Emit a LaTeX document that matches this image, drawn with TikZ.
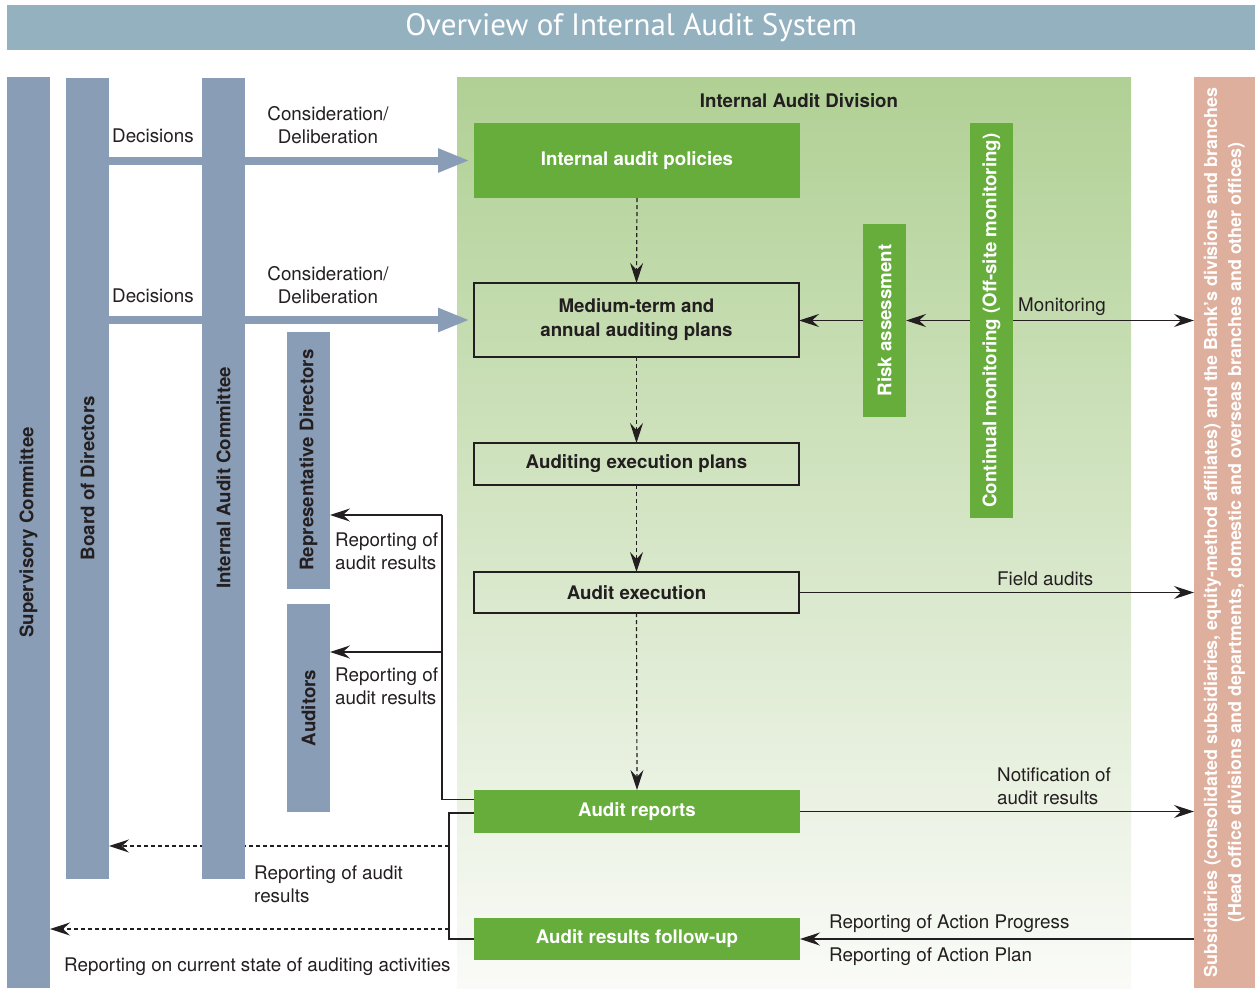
\documentclass[tikz,border=0pt]{standalone}
\usepackage{fontspec}
\setmainfont{TeX Gyre Heros}
\newfontfamily\titlefont{PT Sans}
\usetikzlibrary{arrows.meta}
\pgfdeclarelayer{bg}
\pgfdeclarelayer{mid}
\pgfsetlayers{bg,mid,main}

\definecolor{titlebar}{RGB}{148,177,191}
\definecolor{barblue}{RGB}{138,157,182}
\definecolor{boxgreen}{RGB}{102,173,60}
\definecolor{salmon}{RGB}{223,175,157}
\definecolor{divtop}{RGB}{176,208,148}
\definecolor{divbot}{RGB}{250,251,248}
\definecolor{ink}{RGB}{35,31,32}

\begin{document}
\begin{tikzpicture}[x=1pt,y=-1pt,
  lbl/.style={font=\fontsize{18.8}{23}\selectfont, text=ink, inner sep=0pt, align=left},
  vbar/.style={fill=barblue, rotate=90, inner sep=0pt, outer sep=0pt, text=ink,
               font=\bfseries\fontsize{18.7}{22}\selectfont},
  gbar/.style={fill=boxgreen, rotate=90, inner sep=0pt, outer sep=0pt, text=white,
               font=\bfseries\fontsize{18.7}{22}\selectfont},
  gbox/.style={fill=boxgreen, text=white, inner sep=0pt, outer sep=0pt,
               font=\bfseries\fontsize{18.7}{24}\selectfont, align=center},
  obox/.style={draw=ink, line width=1.2pt, inner sep=0pt, outer sep=0pt, text=ink,
               font=\bfseries\fontsize{18.7}{24}\selectfont, align=center},
  tip/.style={-{Stealth[length=20pt,width=13pt,inset=7pt]}},
  conn/.style={draw=ink, line width=1.2pt},
  dashline/.style={draw=ink, line width=1.2pt, dash pattern=on 4pt off 3pt},
  bigarrow/.style={draw=barblue, line width=8pt, -{Triangle[length=32pt,width=22pt]}}
]
\useasboundingbox (0,0) rectangle (1255,988);

% title bar
\node[fill=titlebar, minimum width=1248pt, minimum height=45pt, inner sep=0pt,
      anchor=north west, text=white, font=\titlefont\fontsize{31}{34}\selectfont]
  (title) at (7,5) {Overview of Internal Audit System};

% Internal Audit Division area
\begin{pgfonlayer}{bg}
  \shade[top color=divtop, bottom color=divbot] (457,77) rectangle (1131,988);
\end{pgfonlayer}
\node[font=\bfseries\fontsize{18.7}{22}\selectfont, text=ink, inner sep=0pt]
  (division) at (799,101) {Internal Audit Division};

% governance bars
\node[vbar, minimum width=911pt, minimum height=43pt] (sup) at (28.5,532.5) {Supervisory Committee};
\node[vbar, minimum width=801pt, minimum height=43pt] (bod) at (87.5,478) {Board of Directors};
\node[vbar, minimum width=801pt, minimum height=43pt] (iac) at (223.5,478) {Internal Audit Committee};
\node[vbar, minimum width=257pt, minimum height=43pt] (rep) at (308.5,460) {Representative Directors};
\node[vbar, minimum width=208pt, minimum height=43pt] (aud) at (308.5,708) {Auditors};

% audited entities
\node[fill=salmon, rotate=90, inner sep=0pt, outer sep=0pt, minimum width=911pt,
      minimum height=61pt, text=white, align=center,
      font=\bfseries\fontsize{17.9}{24}\selectfont] (sub) at (1224.5,532.5)
  {Subsidiaries (consolidated subsidiaries, equity-method affiliates) and the Bank’s divisions and branches\\
   (Head office divisions and departments, domestic and overseas branches and other offices)};

% process steps
\node[gbox, minimum width=326pt, minimum height=75pt] (pol) at (637,160.5) {Internal audit policies};
\node[obox, minimum width=325pt, minimum height=74pt] (med) at (636.5,320) {Medium-term and\\annual auditing plans};
\node[obox, minimum width=325pt, minimum height=42pt] (aep) at (636.5,464) {Auditing execution plans};
\node[obox, minimum width=325pt, minimum height=41pt] (aex) at (636.5,592.5) {Audit execution};
\node[gbox, minimum width=326pt, minimum height=43pt] (arp) at (637,811.5) {Audit reports};
\node[gbox, minimum width=326pt, minimum height=42pt] (fol) at (637,939) {Audit results follow-up};

\node[gbar, minimum width=193pt, minimum height=43pt] (ra) at (884.5,320.5) {Risk assessment};
\node[gbar, minimum width=395pt, minimum height=43pt] (cm) at (991.5,320.5) {Continual monitoring (Off-site monitoring)};

% decisions and deliberation
\begin{pgfonlayer}{mid}
  \draw[bigarrow] (pol.west -| bod.south) -- ([xshift=-4pt]pol.west);
  \draw[bigarrow] (med.west -| bod.south) -- ([xshift=-4pt]med.west);
\end{pgfonlayer}
\node[lbl, anchor=west] (dec1) at (112,136) {Decisions};
\node[lbl, anchor=west] (dec2) at (112,296) {Decisions};
\node[lbl, align=center] (cd1) at (328,125) {Consideration/\\Deliberation};
\node[lbl, align=center] (cd2) at (328,285) {Consideration/\\Deliberation};

% flow through the division
\draw[dashline, tip] (pol.south) -- (med.north);
\draw[dashline, tip] (med.south) -- (aep.north);
\draw[dashline, tip] (aep.south) -- (aex.north);
\draw[dashline, tip] (aex.south) -- (arp.north);

% monitoring and risk assessment
\draw[conn, tip] (ra.north) -- (ra.north -| med.east);
\draw[conn, tip] (cm.north) -- (cm.north -| ra.south);
\draw[conn, tip] (cm.south) -- (cm.south -| sub.north);
\node[lbl, anchor=west] (mon) at (1018,307) {Monitoring};

% field audits and notification
\draw[conn, tip] (aex.east) -- (aex.east -| sub.north);
\node[lbl, anchor=west] (fa) at (997,579) {Field audits};
\draw[conn, tip] (arp.east) -- (arp.east -| sub.north);
\node[lbl, anchor=west] (nar) at (997,786) {Notification of\\audit results};

% follow-up from audited entities
\draw[conn, tip] (fol.east -| sub.north) -- (fol.east);
\node[lbl, anchor=west] (rap) at (829,924) {Reporting of Action Progress};
\node[lbl, anchor=west] (rapl) at (829,957) {Reporting of Action Plan};

% reporting to representative directors and auditors
\coordinate (r1) at (442,515);
\coordinate (r2) at (442,652);
\draw[conn] ([yshift=12pt]arp.west) -| (r1);
\draw[conn, tip] (r1) -- (r1 -| rep.south);
\draw[conn, tip] (r2) -- (r2 -| aud.south);
\node[lbl, anchor=west] (rr1) at (335,551) {Reporting of\\audit results};
\node[lbl, anchor=west] (rr2) at (335,686) {Reporting of\\audit results};

% reporting to the board and the supervisory committee
\coordinate (d1) at (449,846);
\coordinate (d2) at (449,929);
\draw[conn] ([yshift=-1.5pt]arp.west) -| (d1) -- (d2) |- (fol.west);
\begin{pgfonlayer}{mid}
  \draw[dashline, tip] (d1) -- (d1 -| bod.south);
  \draw[dashline, tip] (d2) -- (d2 -| sup.south);
\end{pgfonlayer}
\node[lbl, anchor=west] (rab) at (254,884) {Reporting of audit\\results};
\node[lbl, anchor=west] (rcs) at (64,967) {Reporting on current state of auditing activities};

\end{tikzpicture}
\end{document}
